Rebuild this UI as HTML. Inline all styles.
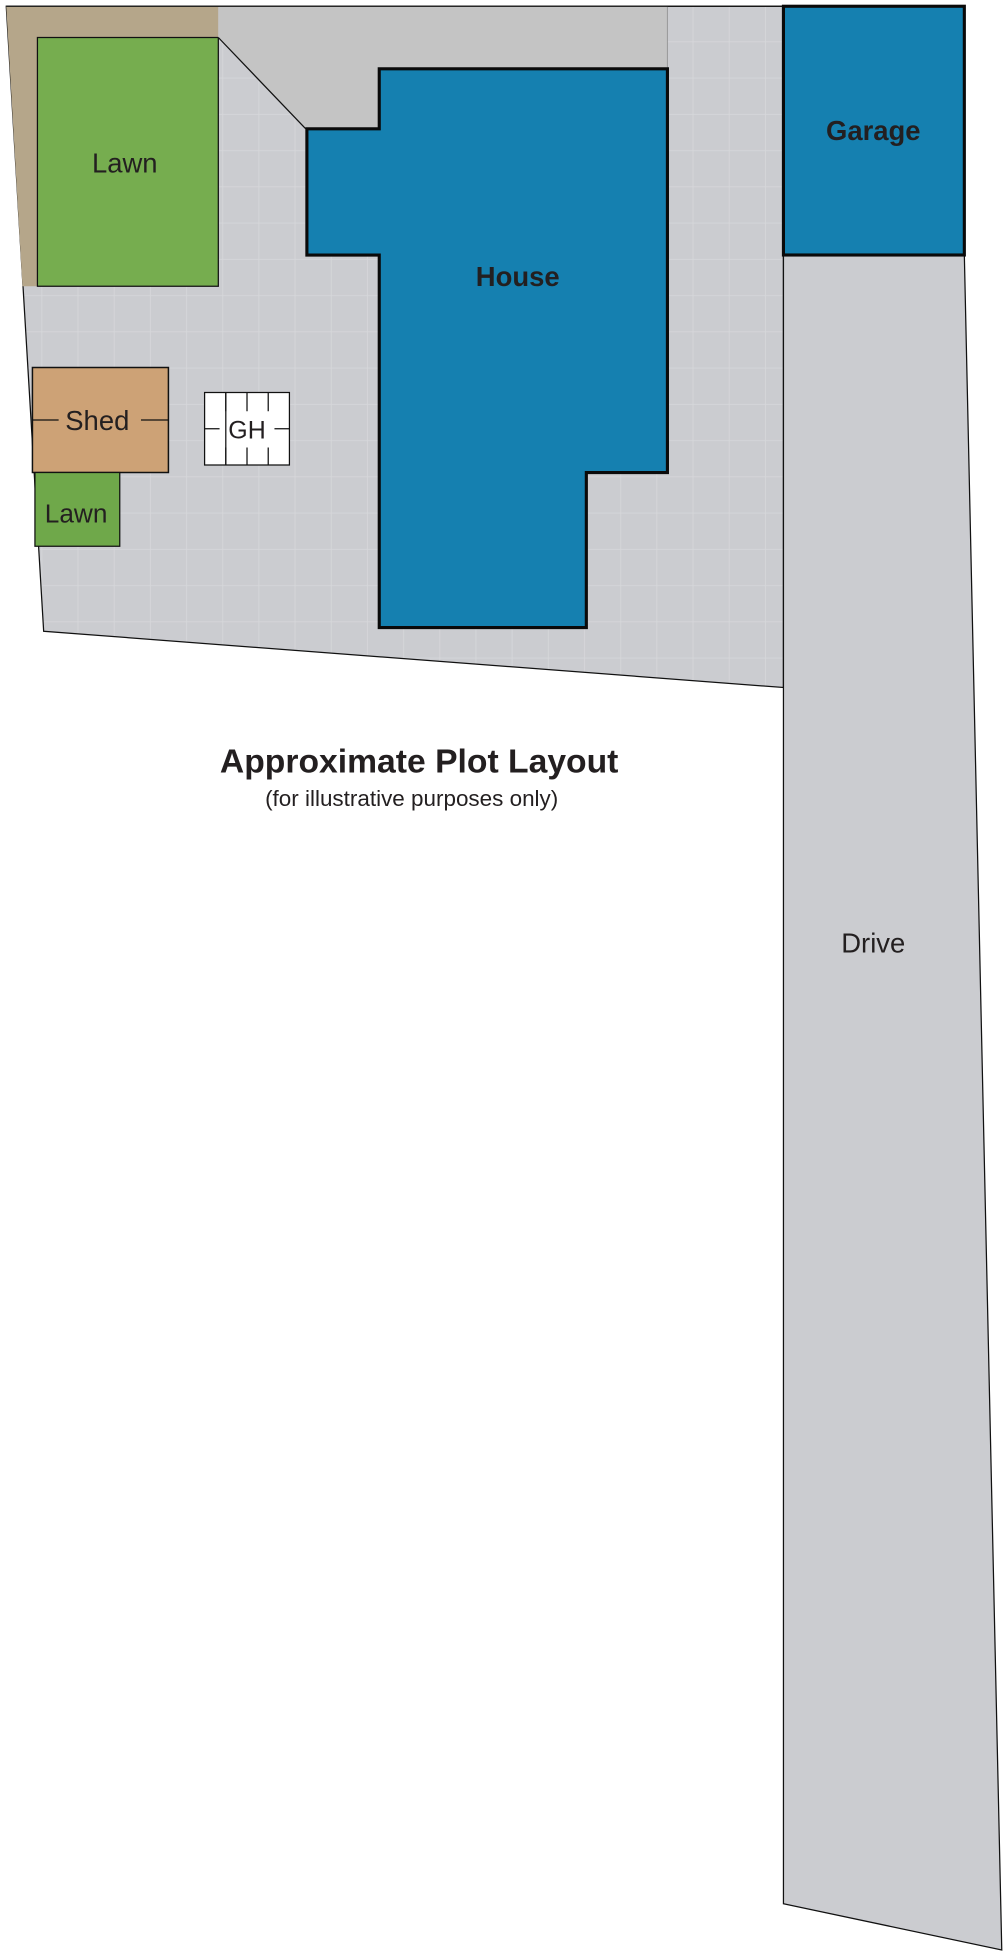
<!DOCTYPE html>
<html><head><meta charset="utf-8"><style>
html,body{margin:0;padding:0;background:#fff}
svg{display:block}
text{font-family:"Liberation Sans",sans-serif;fill:#231f20}
</style></head><body>
<svg width="1008" height="1960" viewBox="0 0 808 1568" preserveAspectRatio="none" xmlns="http://www.w3.org/2000/svg">
<defs>
<pattern id="g" width="29" height="29" patternUnits="userSpaceOnUse" x="5" y="5">
<rect width="29" height="29" fill="#cbccd0"/>
<path d="M28.5 0V29M0 28.5H29" stroke="#d6d7da" stroke-width="0.7"/>
</pattern>
</defs>
<polygon points="5,5 628,5 628,550 35,505" fill="url(#g)" stroke="#111" stroke-width="1"/>
<polygon points="5,5 175,5 175,229 18,229" fill="#b5a68a"/>
<rect x="30" y="30" width="145" height="199" fill="#76ad4f" stroke="#111" stroke-width="1"/>
<polygon points="175,5 535,5 535,55 304,55 304,103 245,103 175,30" fill="#c4c4c4"/>
<line x1="175" y1="30" x2="245" y2="103" stroke="#111" stroke-width="1"/>
<line x1="535" y1="5" x2="535" y2="55" stroke="#999" stroke-width="0.8"/>
<line x1="5" y1="5" x2="628" y2="5" stroke="#111" stroke-width="1"/>
<polygon points="304,55 535,55 535,378 470,378 470,502 304,502 304,204 246,204 246,103 304,103" fill="#1580b0" stroke="#0a0a0a" stroke-width="2.5"/>
<polygon points="628,204 773,204 803,1560 628,1523" fill="#cbccd0" stroke="#111" stroke-width="1"/>
<rect x="628" y="5" width="145" height="199" fill="#1580b0" stroke="#0a0a0a" stroke-width="2.5"/>
<rect x="26" y="294" width="109" height="84" fill="#cda276" stroke="#111" stroke-width="1.2"/>
<line x1="26" y1="336" x2="47" y2="336" stroke="#111"/>
<line x1="113" y1="336" x2="135" y2="336" stroke="#111"/>
<rect x="28" y="378" width="68" height="59" fill="#6fa84a" stroke="#111" stroke-width="1"/>
<rect x="164" y="314" width="68" height="58" fill="#fff" stroke="#111" stroke-width="1"/>
<g stroke="#111" stroke-width="1">
<line x1="181" y1="314" x2="181" y2="329"/><line x1="198" y1="314" x2="198" y2="329"/><line x1="215" y1="314" x2="215" y2="329"/>
<line x1="181" y1="358" x2="181" y2="372"/><line x1="198" y1="358" x2="198" y2="372"/><line x1="215" y1="358" x2="215" y2="372"/>
<line x1="181" y1="314" x2="181" y2="372"/>
<line x1="164" y1="343" x2="176" y2="343"/><line x1="220" y1="343" x2="232" y2="343"/>
</g>
<text x="100" y="138" font-size="22" text-anchor="middle">Lawn</text>
<text x="78" y="344" font-size="22" text-anchor="middle">Shed</text>
<text x="61" y="418" font-size="21" text-anchor="middle">Lawn</text>
<text x="198" y="351" font-size="20" text-anchor="middle">GH</text>
<text x="415" y="229" font-size="22" font-weight="bold" text-anchor="middle">House</text>
<text x="700" y="112" font-size="22" font-weight="bold" text-anchor="middle">Garage</text>
<text x="700" y="762" font-size="22" text-anchor="middle">Drive</text>
<text x="336" y="618" font-size="27" font-weight="bold" text-anchor="middle">Approximate Plot Layout</text>
<text x="330" y="645" font-size="18" text-anchor="middle">(for illustrative purposes only)</text>
</svg>
</body></html>
